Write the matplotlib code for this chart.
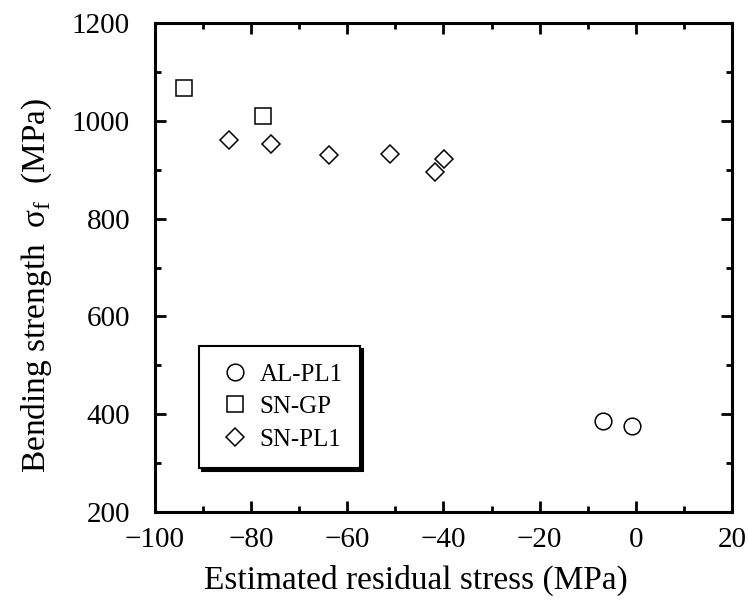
import matplotlib
matplotlib.use("Agg")
import matplotlib.pyplot as plt
from matplotlib.ticker import MultipleLocator

plt.rcParams['font.family'] = ['Liberation Serif', 'DejaVu Serif']
plt.rcParams['mathtext.fontset'] = 'custom'
plt.rcParams['mathtext.rm'] = 'Liberation Serif'

# Data
al_x = [-6.8, -0.9]
al_y = [387, 376]
sngp_x = [-94.0, -77.6]
sngp_y = [1068, 1010]
snpl_x = [-84.7, -75.9, -63.8, -51.1, -39.9, -41.7]
snpl_y = [961, 952, 931, 933, 922, 895]

xlabel = "Estimated residual stress (MPa)"
ylabel = r"Bending strength  σ$_{\rm f}$  (MPa)"

fig = plt.figure(figsize=(7.48, 6.01), dpi=100)
ax = fig.add_axes([155/748, 1-512/601, 577/748, 489/601])

mk = dict(linestyle='none', markerfacecolor='white', markeredgecolor='black', markeredgewidth=1.1)
ax.plot(al_x, al_y, marker='o', markersize=12, label='AL-PL1', **mk)
ax.plot(sngp_x, sngp_y, marker='s', markersize=12, label='SN-GP', **mk)
ax.plot(snpl_x, snpl_y, marker='D', markersize=9.5, label='SN-PL1', **mk)

ax.set_xlim(-100, 20)
ax.set_ylim(200, 1200)
ax.xaxis.set_major_locator(MultipleLocator(20))
ax.xaxis.set_minor_locator(MultipleLocator(10))
ax.yaxis.set_major_locator(MultipleLocator(200))
ax.yaxis.set_minor_locator(MultipleLocator(100))
ax.tick_params(which='both', direction='in', top=True, right=True, width=2, color='black')
ax.tick_params(which='major', length=8, labelsize=21)
ax.tick_params(axis='x', which='major', pad=11)
ax.tick_params(axis='y', which='major', pad=18)
ax.tick_params(which='minor', length=4.5)
for s in ax.spines.values():
    s.set_linewidth(2.2)

ax.set_xlabel(xlabel, fontsize=24)
ax.set_ylabel(ylabel, fontsize=24)
ax.xaxis.set_label_coords(0.452, -0.108)
ax.yaxis.set_label_coords(-0.175, 0.464)

leg = ax.legend(loc='upper left', bbox_to_anchor=(0.076, 0.339), borderaxespad=0,
                fontsize=18, frameon=True, fancybox=False, edgecolor='black',
                shadow={'color': 'black', 'alpha': 1}, handletextpad=0.25,
                handlelength=1.5, borderpad=0.68, labelspacing=0.4)
leg.get_frame().set_linewidth(1.5)

fig.savefig('out.png', dpi=100)
